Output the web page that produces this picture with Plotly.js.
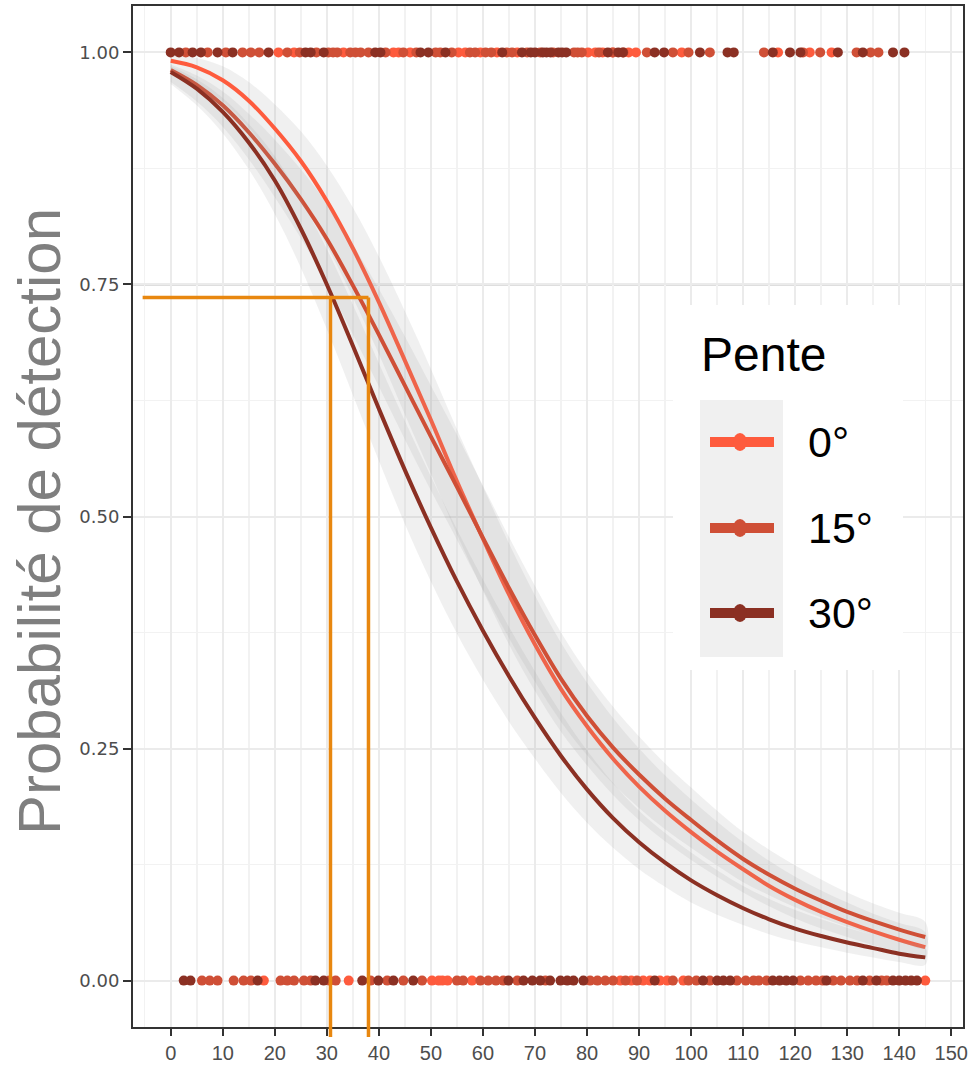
<!DOCTYPE html>
<html>
<head>
<meta charset="utf-8">
<script src="https://cdn.plot.ly/plotly-3.0.1.min.js"></script>
<style>html,body{margin:0;padding:0;background:#fff;}#chart{width:979px;height:1067px;}</style>
</head>
<body>
<div id="chart"></div>
<script>
// ---- data ----
const distance = [0,5,10,15,20,25,30,35,40,45,50,55,60,65,70,75,80,85,90,95,100,105,110,115,120,125,130,135,140,145];

const fit0  = [0.991,0.984,0.970,0.948,0.918,0.883,0.840,0.789,0.731,0.668,0.604,0.538,0.476,0.416,0.362,0.314,0.274,0.239,0.209,0.183,0.160,0.139,0.120,0.102,0.087,0.074,0.063,0.053,0.044,0.036];
const fit15 = [0.981,0.965,0.943,0.914,0.880,0.842,0.799,0.749,0.696,0.641,0.586,0.532,0.477,0.423,0.372,0.325,0.285,0.251,0.222,0.196,0.173,0.151,0.131,0.114,0.099,0.086,0.074,0.064,0.055,0.047];
const fit30 = [0.979,0.961,0.936,0.903,0.862,0.810,0.750,0.684,0.616,0.550,0.488,0.430,0.377,0.328,0.283,0.242,0.206,0.175,0.149,0.127,0.108,0.092,0.078,0.066,0.056,0.048,0.041,0.035,0.029,0.025];

// confidence band half-widths (above / below the fit)
const bandUp    = [0.006,0.010,0.015,0.020,0.026,0.032,0.038,0.044,0.049,0.053,0.055,0.056,0.056,0.055,0.053,0.050,0.047,0.044,0.041,0.038,0.035,0.032,0.029,0.027,0.025,0.023,0.021,0.019,0.018,0.016];
const bandDown  = [0.013,0.018,0.023,0.029,0.036,0.042,0.048,0.053,0.056,0.058,0.058,0.057,0.056,0.054,0.050,0.046,0.042,0.039,0.036,0.033,0.030,0.027,0.025,0.022,0.020,0.018,0.016,0.015,0.013,0.012];
const band30Up   = [0.006,0.010,0.015,0.020,0.026,0.032,0.038,0.044,0.049,0.053,0.055,0.056,0.055,0.053,0.050,0.046,0.042,0.038,0.034,0.032,0.030,0.027,0.024,0.022,0.020,0.018,0.016,0.014,0.013,0.011];
const band30Down = [0.013,0.018,0.023,0.029,0.036,0.042,0.048,0.053,0.056,0.058,0.058,0.056,0.053,0.049,0.044,0.040,0.036,0.032,0.029,0.026,0.024,0.021,0.018,0.016,0.014,0.012,0.011,0.010,0.009,0.008];

// observed detections (y = 1) and non-detections (y = 0)
const det0  = [20.7,23.7,33.2,42.8,43.8,46.0,55.3,56.6,59.5,62.7,66.6,80.2,81.6,83.0,84.9,88.0,89.4,98.2,116.7,122.8,127.0];
const det15 = [2.9,7.1,10.6,13.8,15.4,17.0,22.4,24.8,28.0,30.3,31.2,32.0,34.5,35.5,36.5,38.0,41.3,44.7,47.2,50.9,51.8,54.0,57.5,58.5,60.5,61.6,64.6,65.6,68.5,71.0,73.5,77.5,78.2,79.0,82.3,85.0,87.0,91.5,96.5,99.5,103.6,114.0,121.5,124.8,131.8,134.5,136.0];
const det30 = [0.0,1.6,4.2,5.8,9.0,11.9,18.8,25.9,26.9,29.4,39.3,40.3,48.0,49.5,52.8,63.7,67.5,69.2,70.0,71.5,72.2,73.0,74.5,75.2,76.0,84.0,86.0,86.9,93.0,94.8,101.7,107.0,108.2,115.7,119.0,121.0,128.2,133.0,138.8,141.0];
const miss0  = [17.9,34.2,50.2,51.5,52.2,53.2,57.9,86.4,88.5,90.8,92.1,94.0,95.4,98.5,145.0];
const miss15 = [6.0,7.5,9.0,12.1,14.0,15.4,21.1,22.4,23.7,25.6,26.9,30.5,31.7,38.4,41.6,44.7,48.3,55.0,56.2,59.5,61.0,62.5,63.9,66.6,72.0,80.6,82.0,83.5,85.0,87.4,89.6,96.5,99.5,101.0,103.6,108.8,110.5,112.0,113.0,114.5,121.0,122.5,124.0,125.3,127.3,128.8,130.5,131.9,134.3,136.6,137.6];
const miss30 = [2.5,3.8,16.7,27.8,29.4,36.8,39.9,42.8,46.6,64.9,67.8,69.5,71.0,72.9,74.9,76.2,77.4,79.3,93.0,102.3,105.0,106.2,107.5,115.7,117.0,118.3,119.6,126.0,133.0,135.6,138.8,140.0,141.2,142.3,143.4];

const groupLabels = ['0°','15°','30°'];
const yTickVals = [0,0.25,0.5,0.75,1];
const yTickText = ['0.00','0.25','0.50','0.75','1.00'];
const xTickVals = [0,10,20,30,40,50,60,70,80,90,100,110,120,130,140,150];

// reading guides
const refProb = 0.75;
const guideProb = 0.736;
const guideDist = [30.7, 38.0];
const guideStart = -5.4;

// ---- styles ----
const colors = ['#FE5B3D','#CF4F36','#8B3023'];
const ribbonFill = 'rgba(153,153,153,0.15)';
const orange = '#E8870F';

const W = 979, H = 1067;
const M = {l:133, r:16, t:6, b:40};
const PW = W - M.l - M.r, PH = H - M.t - M.b;
const XR = [-7.25, 152.25], YR = [-0.05, 1.05];
const px = v => (v - M.l) / PW;        // pixel x -> paper
const py = v => (H - M.b - v) / PH;    // pixel y -> paper
const yp = v => (v - YR[0]) / (YR[1] - YR[0]); // data y -> paper

const fits = [fit0, fit15, fit30];
const ups = [bandUp, bandUp, band30Up], downs = [bandDown, bandDown, band30Down];
const dets = [det0, det15, det30], misses = [miss0, miss15, miss30];

const traces = [];
for (let g = 0; g < 3; g++) {
  const hi = fits[g].map((v, i) => v + ups[g][i]);
  const lo = fits[g].map((v, i) => v - downs[g][i]);
  traces.push({
    x: distance.concat(distance.slice().reverse()),
    y: hi.concat(lo.slice().reverse()),
    type: 'scatter', mode: 'lines', fill: 'toself', fillcolor: ribbonFill,
    line: {width: 0, shape: 'spline'}, hoverinfo: 'skip', showlegend: false
  });
  traces.push({
    x: distance, y: fits[g], type: 'scatter', mode: 'lines', name: groupLabels[g],
    line: {color: colors[g], width: 4, shape: 'spline'}, showlegend: false
  });
}
for (let g = 0; g < 3; g++) {
  traces.push({
    x: dets[g].concat(misses[g]),
    y: dets[g].map(() => 1).concat(misses[g].map(() => 0)),
    type: 'scatter', mode: 'markers', name: groupLabels[g],
    marker: {color: colors[g], size: 10}, showlegend: false, cliponaxis: false
  });
}

const shapes = [
  {type:'line', xref:'paper', yref:'y', x0:0, x1:1, y0:refProb, y1:refProb,
   line:{color:'#bdbdbd', width:2}, layer:'between'},
  {type:'line', xref:'x', yref:'y', x0:guideStart, x1:guideDist[1], y0:guideProb, y1:guideProb,
   line:{color:orange, width:3.5}, layer:'above'},
  {type:'line', xref:'x', yref:'paper', x0:guideDist[0], x1:guideDist[0], y0:py(1037), y1:yp(guideProb),
   line:{color:orange, width:3.5}, layer:'above'},
  {type:'line', xref:'x', yref:'paper', x0:guideDist[1], x1:guideDist[1], y0:py(1037), y1:yp(guideProb),
   line:{color:orange, width:3.5}, layer:'above'},
  // legend box
  {type:'rect', xref:'paper', yref:'paper', x0:px(673), x1:px(903), y0:py(670), y1:py(305),
   fillcolor:'#ffffff', line:{width:0}, layer:'above'},
  {type:'rect', xref:'paper', yref:'paper', x0:px(700), x1:px(783), y0:py(657), y1:py(400),
   fillcolor:'#f0f0f0', line:{width:0}, layer:'above'}
];
const keyY = [442, 528, 613];
const annotations = [
  {xref:'paper', yref:'paper', x:px(39), y:py(522), text:'Probabilité de détection', showarrow:false,
   textangle:-90, font:{family:'Liberation Sans, Arial, sans-serif', size:60, color:'#7f7f7f'},
   xanchor:'center', yanchor:'middle'},
  {xref:'paper', yref:'paper', x:px(699), y:py(354), text:'Pente', showarrow:false,
   font:{family:'Liberation Sans, Arial, sans-serif', size:48, color:'#000'}, xanchor:'left', yanchor:'middle'}
];
for (let g = 0; g < 3; g++) {
  shapes.push({type:'line', xref:'paper', yref:'paper', x0:px(710), x1:px(774), y0:py(keyY[g]), y1:py(keyY[g]),
    line:{color:colors[g], width:10}, layer:'above'});
  shapes.push({type:'circle', xref:'paper', yref:'paper', x0:px(733), x1:px(747), y0:py(keyY[g]+9), y1:py(keyY[g]-9),
    fillcolor:colors[g], line:{width:0}, layer:'above'});
  annotations.push({xref:'paper', yref:'paper', x:px(806), y:py(keyY[g]), text:groupLabels[g], showarrow:false,
    font:{family:'Liberation Sans, Arial, sans-serif', size:43, color:'#000'}, xanchor:'left', yanchor:'middle'});
}

const layout = {
  width: W, height: H,
  margin: M,
  paper_bgcolor: '#fff', plot_bgcolor: '#fff',
  showlegend: false,
  xaxis: {
    range: XR, tickvals: xTickVals, ticktext: xTickVals.map(String),
    showgrid: true, gridcolor: '#ebebeb', gridwidth: 2,
    minor: {dtick: 5, tick0: 0, showgrid: true, gridcolor: '#f2f2f2', gridwidth: 1.5},
    showline: true, linecolor: '#333', linewidth: 2, mirror: true,
    ticks: 'outside', ticklen: 7, tickwidth: 2, tickcolor: '#333',
    tickfont: {family: 'Liberation Sans, Arial, sans-serif', size: 20, color: '#4d4d4d'},
    zeroline: false
  },
  yaxis: {
    range: YR, tickvals: yTickVals, ticktext: yTickText,
    showgrid: true, gridcolor: '#ebebeb', gridwidth: 2,
    minor: {dtick: 0.125, tick0: 0, showgrid: true, gridcolor: '#f2f2f2', gridwidth: 1.5},
    showline: true, linecolor: '#333', linewidth: 2, mirror: true,
    ticks: 'outside', ticklen: 8, tickwidth: 2, tickcolor: '#333',
    tickfont: {family: 'DejaVu Sans, sans-serif', size: 18, color: '#4d4d4d'},
    zeroline: false
  },
  shapes: shapes,
  annotations: annotations
};

Plotly.newPlot('chart', traces, layout, {displayModeBar: false, staticPlot: true});
</script>
</body>
</html>
